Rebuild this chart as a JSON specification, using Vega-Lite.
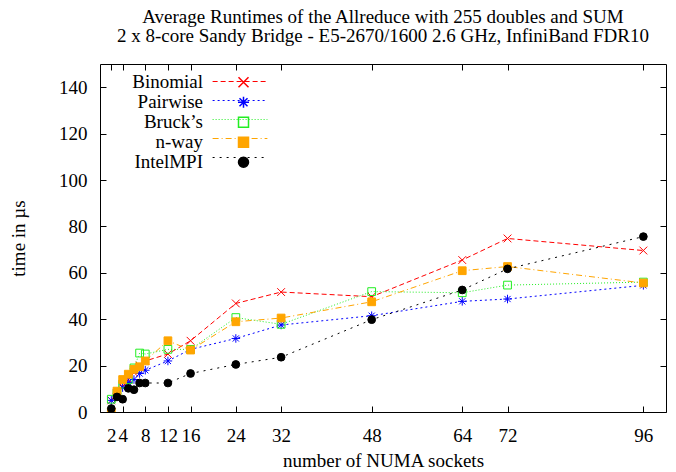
{
  "$schema": "https://vega.github.io/schema/vega-lite/v6.json",
  "width": 566,
  "height": 348,
  "autosize": {"type": "none"},
  "padding": {"left": 100, "top": 64, "right": 10, "bottom": 60},
  "title": {
    "text": ["Average Runtimes of the Allreduce with 255 doubles and SUM", "2 x 8-core Sandy Bridge - E5-2670/1600 2.6 GHz, InfiniBand FDR10"],
    "font": "Liberation Serif", "fontSize": 19, "fontWeight": "normal", "anchor": "middle", "offset": 18, "lineHeight": 19, "color": "black"
  },
  "config": {
    "view": {"stroke": "black", "strokeWidth": 1},
    "font": "Liberation Serif",
    "axis": {"grid": false, "domain": false, "tickColor": "black", "tickSize": -6, "labelFont": "Liberation Serif", "labelFontSize": 19, "labelColor": "black", "titleFont": "Liberation Serif", "titleFontSize": 19, "titleFontWeight": "normal", "titleColor": "black"},
    "legend": {"labelFont": "Liberation Serif", "labelFontSize": 19, "labelColor": "black"}
  },
  "data": {"values": [
    {"n": 2, "series": "Binomial", "t": 5}, {"n": 3, "series": "Binomial", "t": 8}, {"n": 4, "series": "Binomial", "t": 11}, {"n": 5, "series": "Binomial", "t": 14}, {"n": 6, "series": "Binomial", "t": 17}, {"n": 7, "series": "Binomial", "t": 20}, {"n": 8, "series": "Binomial", "t": 22}, {"n": 12, "series": "Binomial", "t": 25}, {"n": 16, "series": "Binomial", "t": 30.7}, {"n": 24, "series": "Binomial", "t": 46.8}, {"n": 32, "series": "Binomial", "t": 51.7}, {"n": 48, "series": "Binomial", "t": 49.7}, {"n": 64, "series": "Binomial", "t": 65.5}, {"n": 72, "series": "Binomial", "t": 74.8}, {"n": 96, "series": "Binomial", "t": 69.6},
    {"n": 2, "series": "Pairwise", "t": 5}, {"n": 3, "series": "Pairwise", "t": 8}, {"n": 4, "series": "Pairwise", "t": 10.5}, {"n": 5, "series": "Pairwise", "t": 12.7}, {"n": 6, "series": "Pairwise", "t": 14}, {"n": 7, "series": "Pairwise", "t": 16.6}, {"n": 8, "series": "Pairwise", "t": 18}, {"n": 12, "series": "Pairwise", "t": 22}, {"n": 16, "series": "Pairwise", "t": 27}, {"n": 24, "series": "Pairwise", "t": 31.7}, {"n": 32, "series": "Pairwise", "t": 37.5}, {"n": 48, "series": "Pairwise", "t": 41.5}, {"n": 64, "series": "Pairwise", "t": 47.7}, {"n": 72, "series": "Pairwise", "t": 48.7}, {"n": 96, "series": "Pairwise", "t": 54.6},
    {"n": 2, "series": "Bruck’s", "t": 5.5}, {"n": 3, "series": "Bruck’s", "t": 8}, {"n": 4, "series": "Bruck’s", "t": 12}, {"n": 5, "series": "Bruck’s", "t": 14}, {"n": 6, "series": "Bruck’s", "t": 19}, {"n": 7, "series": "Bruck’s", "t": 25.4}, {"n": 8, "series": "Bruck’s", "t": 25}, {"n": 12, "series": "Bruck’s", "t": 27}, {"n": 16, "series": "Bruck’s", "t": 27}, {"n": 24, "series": "Bruck’s", "t": 40.7}, {"n": 32, "series": "Bruck’s", "t": 37.8}, {"n": 48, "series": "Bruck’s", "t": 51.9}, {"n": 64, "series": "Bruck’s", "t": 51.4}, {"n": 72, "series": "Bruck’s", "t": 54.7}, {"n": 96, "series": "Bruck’s", "t": 56},
    {"n": 2, "series": "n-way", "t": 0}, {"n": 3, "series": "n-way", "t": 9}, {"n": 4, "series": "n-way", "t": 14}, {"n": 5, "series": "n-way", "t": 16.3}, {"n": 6, "series": "n-way", "t": 18.4}, {"n": 7, "series": "n-way", "t": 19.5}, {"n": 8, "series": "n-way", "t": 22}, {"n": 12, "series": "n-way", "t": 30.7}, {"n": 16, "series": "n-way", "t": 26.7}, {"n": 24, "series": "n-way", "t": 38.9}, {"n": 32, "series": "n-way", "t": 40.5}, {"n": 48, "series": "n-way", "t": 47.5}, {"n": 64, "series": "n-way", "t": 60.9}, {"n": 72, "series": "n-way", "t": 62.7}, {"n": 96, "series": "n-way", "t": 55.6},
    {"n": 2, "series": "IntelMPI", "t": 1.5}, {"n": 3, "series": "IntelMPI", "t": 6.5}, {"n": 4, "series": "IntelMPI", "t": 5.5}, {"n": 5, "series": "IntelMPI", "t": 10.2}, {"n": 6, "series": "IntelMPI", "t": 9.6}, {"n": 7, "series": "IntelMPI", "t": 12.5}, {"n": 8, "series": "IntelMPI", "t": 12.5}, {"n": 12, "series": "IntelMPI", "t": 12.5}, {"n": 16, "series": "IntelMPI", "t": 16.6}, {"n": 24, "series": "IntelMPI", "t": 20.5}, {"n": 32, "series": "IntelMPI", "t": 23.6}, {"n": 48, "series": "IntelMPI", "t": 39.8}, {"n": 64, "series": "IntelMPI", "t": 52.6}, {"n": 72, "series": "IntelMPI", "t": 61.7}, {"n": 96, "series": "IntelMPI", "t": 75.6}
  ]},
  "transform": [{"calculate": "datum.series + ' '", "as": "s2"}],
  "resolve": {"axis": {"x": "independent", "y": "independent"}},
  "layer": [
    {
      "mark": {"type": "line", "strokeWidth": 1, "clip": true},
      "encoding": {
        "x": {"field": "n", "type": "quantitative", "scale": {"domain": [0, 100], "nice": false, "zero": false},
              "axis": {"orient": "bottom", "values": [2, 4, 8, 12, 16, 24, 32, 48, 64, 72, 96], "labelPadding": 20, "title": "number of NUMA sockets", "titlePadding": 6}},
        "y": {"field": "t", "type": "quantitative", "scale": {"domain": [0, 150], "nice": false},
              "axis": {"orient": "left", "values": [0, 20, 40, 60, 80, 100, 120, 140], "labelPadding": 19, "title": "time in µs", "titlePadding": 30}},
        "color": {"field": "s2", "type": "nominal",
                   "scale": {"domain": ["Binomial ", "Pairwise ", "Bruck’s ", "n-way ", "IntelMPI "], "range": ["#ff0000", "#0000ff", "#22ee22", "#ffa500", "#000000"]},
                   "legend": {"orient": "none", "legendX": 112, "legendY": 8, "title": null, "symbolType": "stroke", "symbolSize": 3000, "symbolStrokeWidth": 1, "labelOpacity": 0, "labelFontSize": 2, "rowPadding": 0, "padding": 0, "clipHeight": 19}},
        "strokeDash": {"field": "s2", "type": "nominal",
                   "scale": {"domain": ["Binomial ", "Pairwise ", "Bruck’s ", "n-way ", "IntelMPI "], "range": [[5, 3], [2, 3], [1, 2], [6, 3, 1, 3], [2, 5]]},
                   "legend": {"orient": "none", "legendX": 112, "legendY": 8, "title": null, "symbolType": "stroke", "symbolSize": 3000, "symbolStrokeWidth": 1, "labelOpacity": 0, "labelFontSize": 2, "rowPadding": 0, "padding": 0, "clipHeight": 19}}
      }
    },
    {
      "mark": {"type": "point", "strokeWidth": 1, "opacity": 1, "clip": true},
      "encoding": {
        "x": {"field": "n", "type": "quantitative", "axis": {"orient": "top", "values": [2, 4, 8, 12, 16, 24, 32, 48, 64, 72, 96], "labels": false, "title": null}},
        "y": {"field": "t", "type": "quantitative", "axis": {"orient": "right", "values": [0, 20, 40, 60, 80, 100, 120, 140], "labels": false, "title": null}},
        "shape": {"field": "series", "type": "nominal",
                  "scale": {"domain": ["Binomial", "Pairwise", "Bruck’s", "n-way", "IntelMPI"], "range": ["M-1,-1L1,1M-1,1L1,-1", "M-0.8,-0.8L0.8,0.8M-0.8,0.8L0.8,-0.8M-1.1,0L1.1,0M0,-1.1L0,1.1", "square", "square", "circle"]},
                  "legend": {"orient": "none", "legendX": 134, "legendY": 8.7, "title": null, "labelAlign": "right", "labelOffset": -50, "rowPadding": -3.9, "padding": 0}},
        "stroke": {"field": "series", "type": "nominal",
                   "scale": {"domain": ["Binomial", "Pairwise", "Bruck’s", "n-way", "IntelMPI"], "range": ["#ff0000", "#0000ff", "#22ee22", "#ffa500", "#000000"]},
                   "legend": {"orient": "none", "legendX": 134, "legendY": 8.7, "title": null, "labelAlign": "right", "labelOffset": -50, "rowPadding": -3.9, "padding": 0}},
        "fill": {"field": "series", "type": "nominal",
                 "scale": {"domain": ["Binomial", "Pairwise", "Bruck’s", "n-way", "IntelMPI"], "range": ["transparent", "transparent", "transparent", "#ffa500", "#000000"]},
                 "legend": {"orient": "none", "legendX": 134, "legendY": 8.7, "title": null, "labelAlign": "right", "labelOffset": -50, "rowPadding": -3.9, "padding": 0}},
        "size": {"value": 60}
      }
    }
  ]
}
